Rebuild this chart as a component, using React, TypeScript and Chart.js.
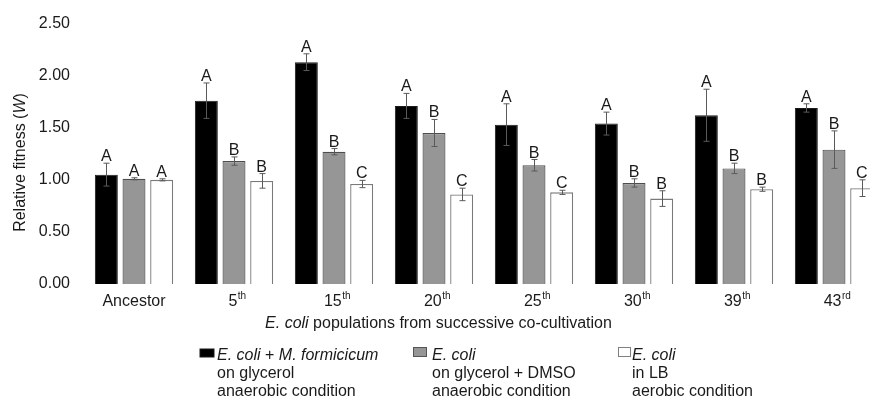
import { useEffect, useRef } from 'react';
import { Chart, registerables } from 'chart.js';

Chart.register(...registerables);

const categories = ['Ancestor', '5', '15', '20', '25', '30', '39', '43'];
const categorySuffix = ['', 'th', 'th', 'th', 'th', 'th', 'th', 'rd'];

const coculture = [1.05, 1.76, 2.13, 1.71, 1.53, 1.54, 1.62, 1.69];
const cocultureErr = [0.11, 0.17, 0.08, 0.12, 0.2, 0.11, 0.25, 0.04];
const cocultureLetters = ['A', 'A', 'A', 'A', 'A', 'A', 'A', 'A'];

const dmso = [1.01, 1.18, 1.27, 1.45, 1.14, 0.97, 1.11, 1.29];
const dmsoErr = [0.01, 0.04, 0.03, 0.13, 0.055, 0.04, 0.05, 0.18];
const dmsoLetters = ['A', 'B', 'B', 'B', 'B', 'B', 'B', 'B'];

const lb = [1.0, 0.99, 0.96, 0.86, 0.88, 0.82, 0.91, 0.92];
const lbErr = [0.01, 0.07, 0.035, 0.06, 0.02, 0.075, 0.02, 0.08];
const lbLetters = ['A', 'B', 'C', 'C', 'C', 'B', 'B', 'C'];

const yTicks = [0, 0.5, 1.0, 1.5, 2.0, 2.5];

const FONT = "'Liberation Sans', Arial, Helvetica, sans-serif";
const TEXT = '#1a1a1a';

type Run = { t: string; i?: boolean };

function runsWidth(ctx: CanvasRenderingContext2D, runs: Run[], size: number) {
  let w = 0;
  for (const r of runs) {
    ctx.font = `${r.i ? 'italic ' : ''}${size}px ${FONT}`;
    w += ctx.measureText(r.t).width;
  }
  return w;
}

function drawRuns(ctx: CanvasRenderingContext2D, runs: Run[], x: number, y: number, size: number) {
  let cx = x;
  ctx.textAlign = 'left';
  for (const r of runs) {
    ctx.font = `${r.i ? 'italic ' : ''}${size}px ${FONT}`;
    ctx.fillText(r.t, cx, y);
    cx += ctx.measureText(r.t).width;
  }
}

const errs = [cocultureErr, dmsoErr, lbErr];
const letters = [cocultureLetters, dmsoLetters, lbLetters];

const overlay = {
  id: 'overlay',
  afterDatasetsDraw(chart: any) {
    const ctx: CanvasRenderingContext2D = chart.ctx;
    const yScale = chart.scales.y;
    ctx.save();
    chart.data.datasets.forEach((ds: any, i: number) => {
      const meta = chart.getDatasetMeta(i);
      meta.data.forEach((bar: any, j: number) => {
        const v = ds.data[j];
        const e = errs[i][j];
        const yt = yScale.getPixelForValue(v + e);
        const yb = yScale.getPixelForValue(v - e);
        const x = Math.round(bar.x) + 0.5;
        ctx.strokeStyle = '#5a5a5a';
        ctx.lineWidth = 1;
        ctx.beginPath();
        ctx.moveTo(x, yt);
        ctx.lineTo(x, yb);
        ctx.moveTo(x - 3, yt);
        ctx.lineTo(x + 3, yt);
        ctx.moveTo(x - 3, yb);
        ctx.lineTo(x + 3, yb);
        ctx.stroke();
        ctx.fillStyle = TEXT;
        ctx.font = `16px ${FONT}`;
        ctx.textAlign = 'center';
        ctx.textBaseline = 'alphabetic';
        ctx.fillText(letters[i][j], bar.x, yt - 2);
      });
    });
    ctx.restore();
  },
  afterDraw(chart: any) {
    const ctx: CanvasRenderingContext2D = chart.ctx;
    const xScale = chart.scales.x;
    ctx.save();
    ctx.fillStyle = TEXT;
    ctx.textBaseline = 'alphabetic';

    // y title (rotated)
    const yRuns: Run[] = [{ t: 'Relative fitness (' }, { t: 'W', i: true }, { t: ')' }];
    ctx.save();
    ctx.translate(21, 162.5);
    ctx.rotate(-Math.PI / 2);
    ctx.textBaseline = 'middle';
    const yw = runsWidth(ctx, yRuns, 16);
    drawRuns(ctx, yRuns, -yw / 2, 0, 16);
    ctx.restore();

    // x category labels with superscripts
    categories.forEach((c, j) => {
      const cx = xScale.getPixelForValue(j);
      ctx.font = `16px ${FONT}`;
      const mw = ctx.measureText(c).width;
      ctx.font = `10px ${FONT}`;
      const sw = ctx.measureText(categorySuffix[j]).width;
      const shift = categorySuffix[j] ? 3 : 0;
      const start = cx - (mw + sw) / 2 + shift;
      ctx.textAlign = 'left';
      ctx.font = `16px ${FONT}`;
      ctx.fillText(c, start, 306);
      if (categorySuffix[j]) {
        ctx.font = `10px ${FONT}`;
        ctx.fillText(categorySuffix[j], start + mw + 0.5, 299);
      }
    });

    // x title
    const xRuns: Run[] = [{ t: 'E. coli', i: true }, { t: ' populations from successive co-cultivation' }];
    const xw = runsWidth(ctx, xRuns, 16);
    drawRuns(ctx, xRuns, 438.5 - xw / 2, 328, 16);

    // legend
    const items = [
      {
        box: { x: 200, y: 349, w: 14, h: 8, fill: '#000', stroke: '#1a1a1a' },
        x: 217,
        lines: [
          [{ t: 'E. coli', i: true }, { t: ' + ' }, { t: 'M. formicicum', i: true }],
          [{ t: 'on glycerol' }],
          [{ t: 'anaerobic condition' }],
        ] as Run[][],
      },
      {
        box: { x: 413.5, y: 347.5, w: 13, h: 9, fill: '#969696', stroke: '#555' },
        x: 432,
        lines: [
          [{ t: 'E. coli', i: true }],
          [{ t: 'on glycerol + DMSO' }],
          [{ t: 'anaerobic condition' }],
        ] as Run[][],
      },
      {
        box: { x: 618.5, y: 347.5, w: 12, h: 9, fill: '#fff', stroke: '#808080' },
        x: 632,
        lines: [
          [{ t: 'E. coli', i: true }],
          [{ t: 'in LB' }],
          [{ t: 'aerobic condition' }],
        ] as Run[][],
      },
    ];
    items.forEach((it) => {
      ctx.fillStyle = it.box.fill;
      ctx.fillRect(it.box.x, it.box.y, it.box.w, it.box.h);
      ctx.strokeStyle = it.box.stroke;
      ctx.lineWidth = 1;
      ctx.strokeRect(it.box.x, it.box.y, it.box.w, it.box.h);
      ctx.fillStyle = TEXT;
      it.lines.forEach((ln, k) => drawRuns(ctx, ln, it.x, 360 + k * 18, 16));
    });
    ctx.restore();
  },
};

export default function App() {
  const ref = useRef<HTMLCanvasElement>(null);
  useEffect(() => {
    const canvas = ref.current;
    if (!canvas) return;
    const chart = new Chart(canvas, {
      type: 'bar',
      data: {
        labels: categories,
        datasets: [
          {
            label: 'E. coli + M. formicicum on glycerol anaerobic condition',
            data: coculture,
            backgroundColor: '#000000',
            borderColor: '#1a1a1a',
            borderWidth: 1,
            categoryPercentage: 0.83,
            barPercentage: 0.83,
          },
          {
            label: 'E. coli on glycerol + DMSO anaerobic condition',
            data: dmso,
            backgroundColor: '#969696',
            borderColor: '#4d4d4d',
            borderWidth: 1.2,
            categoryPercentage: 0.83,
            barPercentage: 0.83,
          },
          {
            label: 'E. coli in LB aerobic condition',
            data: lb,
            backgroundColor: '#ffffff',
            borderColor: '#7a7a7a',
            borderWidth: 1.3,
            categoryPercentage: 0.83,
            barPercentage: 0.83,
          },
        ],
      },
      options: {
        responsive: false,
        animation: false,
        layout: { padding: { left: 0, right: 16, top: 22, bottom: 114 } },
        plugins: { legend: { display: false }, tooltip: { enabled: false } },
        scales: {
          x: { display: false },
          y: {
            min: 0,
            max: 2.5,
            afterBuildTicks: (s: any) => {
              s.ticks = yTicks.map((v) => ({ value: v }));
            },
            ticks: {
              callback: (v: any) => Number(v).toFixed(2),
              font: { family: FONT, size: 16 },
              color: TEXT,
              padding: 14,
            },
            grid: { display: false, drawTicks: false },
            border: { display: false },
            afterFit: (s: any) => {
              s.width = 84;
            },
          },
        },
      },
      plugins: [overlay],
    } as any);
    return () => chart.destroy();
  }, []);
  return (
    <div
      style={{
        position: 'fixed',
        left: 0,
        top: 0,
        width: 870,
        height: 398,
        overflow: 'hidden',
        background: '#fff',
      }}
    >
      <canvas ref={ref} width={900} height={398} style={{ display: 'block' }} />
    </div>
  );
}
